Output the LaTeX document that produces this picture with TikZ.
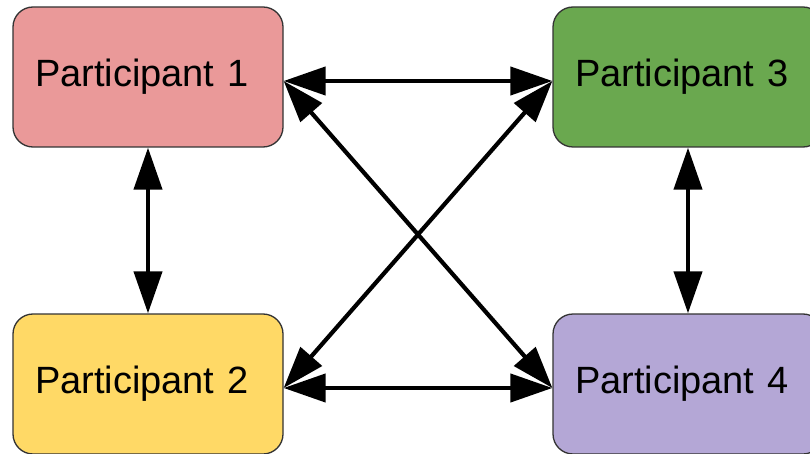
\documentclass[tikz,border=0pt]{standalone}
\usepackage{fontspec}
\setmainfont{Liberation Sans}
\usetikzlibrary{arrows.meta, positioning}

\definecolor{pinkbox}{HTML}{EA9999}
\definecolor{greenbox}{HTML}{6AA84F}
\definecolor{yellowbox}{HTML}{FFD966}
\definecolor{purplebox}{HTML}{B4A7D6}

\begin{document}
\begin{tikzpicture}[x=1pt, y=1pt,
      party/.style={rectangle, rounded corners=20pt, draw=black!80, line width=1.3pt, minimum width=270pt, minimum height=140pt, inner sep=0pt, text width=226pt, align=left, font=\fontsize{38}{44}\selectfont},
      link/.style={{Triangle[length=42pt,width=28pt]}-{Triangle[length=42pt,width=28pt]}, line width=4.2pt}]

      \useasboundingbox (0,0) rectangle (810,-454);

      \node[party, fill=pinkbox] (p1) at (148,-77) {Participant 1};
      \node[party, fill=yellowbox] (p2) at (148,-384) {Participant 2};
      \node[party, fill=greenbox] (p3) at (688,-77) {Participant 3};
      \node[party, fill=purplebox] (p4) at (688,-384) {Participant 4};

      % Links between every pair
      \draw[link] ([yshift=-4pt]p1.east) -- ([yshift=-4pt]p3.west);
      \draw[link] ([yshift=-4pt]p2.east) -- ([yshift=-4pt]p4.west);
      \draw[link] (p1.south) -- (p2.north);
      \draw[link] (p3.south) -- (p4.north);
      \draw[link] ([yshift=-4pt]p1.east) -- ([yshift=-4pt]p4.west);
      \draw[link] ([yshift=-4pt]p2.east) -- ([yshift=-4pt]p3.west);
    \end{tikzpicture}
\end{document}
